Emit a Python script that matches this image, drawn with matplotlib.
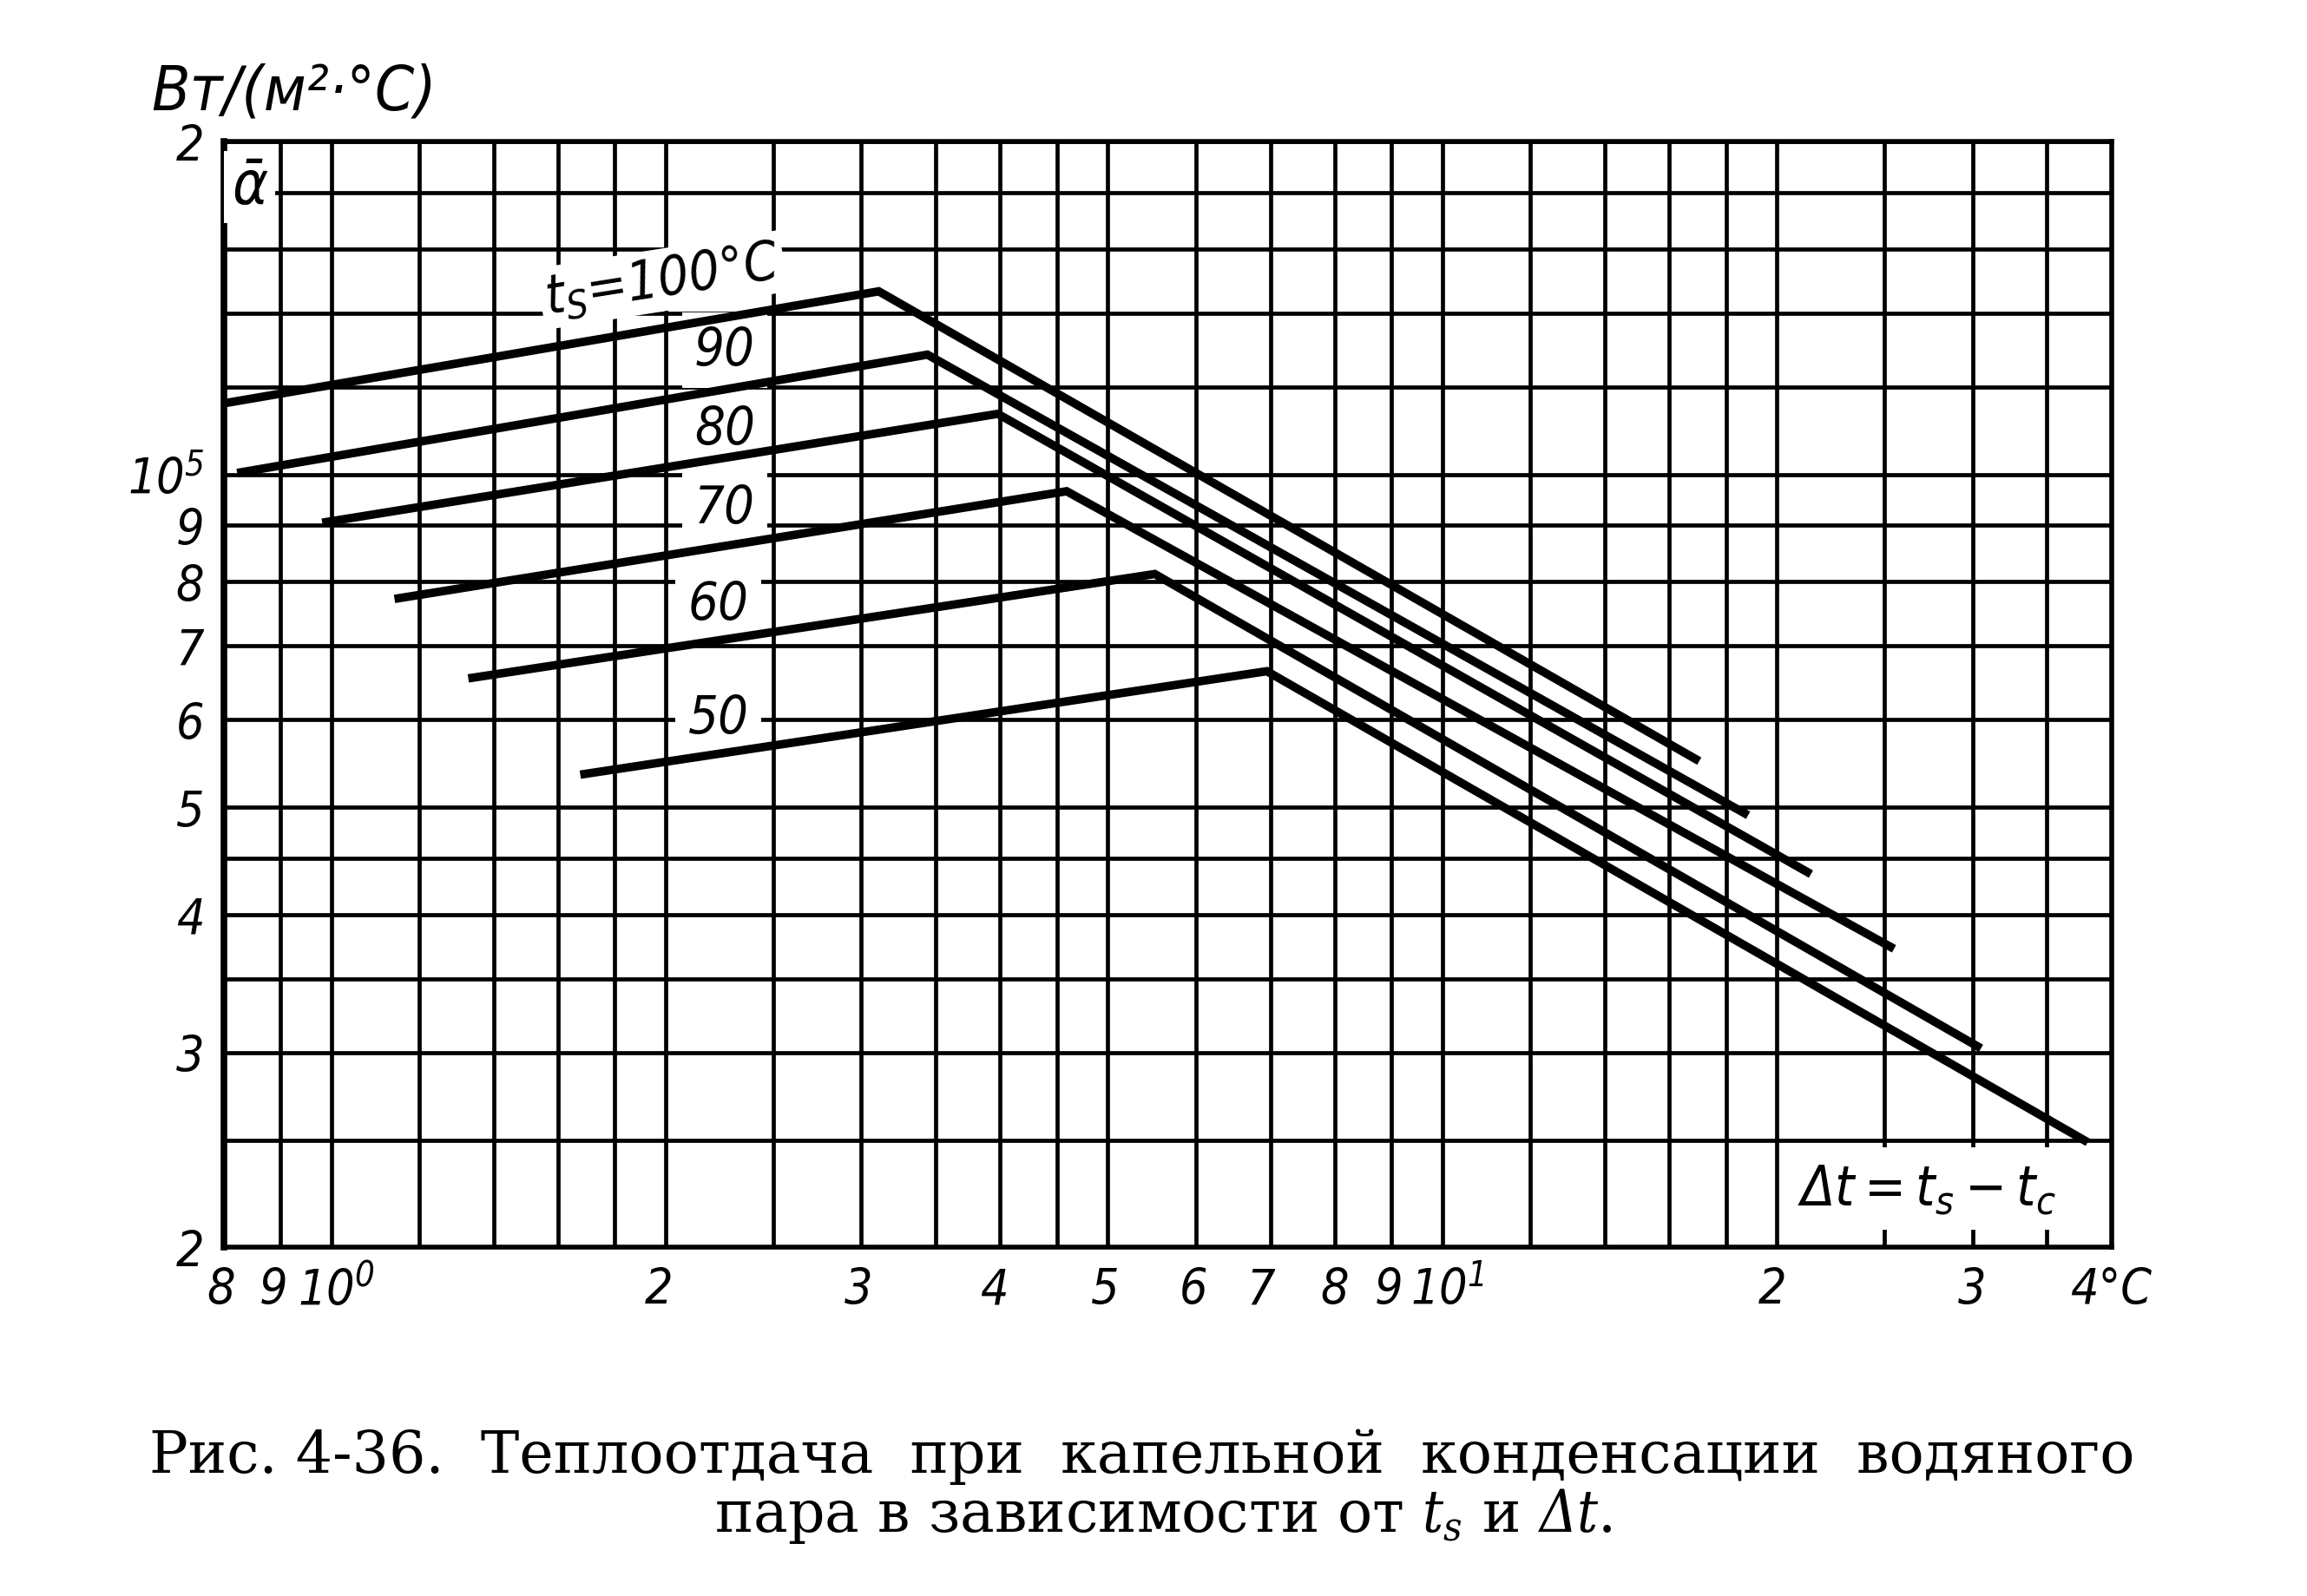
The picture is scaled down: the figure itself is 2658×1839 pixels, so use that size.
import matplotlib
matplotlib.use("Agg")
import matplotlib.pyplot as plt
from matplotlib.ticker import NullLocator
from matplotlib.transforms import ScaledTranslation

# condensed oblique face, close to the drafting lettering of the original
plt.rcParams['font.family'] = ['DejaVu Sans']
plt.rcParams['font.style'] = 'oblique'
plt.rcParams['font.stretch'] = 'condensed'
plt.rcParams['mathtext.fontset'] = 'custom'
plt.rcParams['mathtext.rm'] = 'DejaVu Sans:style=oblique:stretch=condensed'
plt.rcParams['mathtext.it'] = 'DejaVu Sans:style=oblique:stretch=condensed'

# saturation temperature t_s, deg C
ts_values = [100, 90, 80, 70, 60, 50]
# every curve: start point, break point, end point (dt in deg C, alpha in W/(m2 C))
dt_start = [0.80, 0.83, 0.99, 1.15, 1.34, 1.69]
alpha_start = [1.16e5, 1.005e5, 9.06e4, 7.73e4, 6.55e4, 5.36e4]
dt_peak = [3.11, 3.44, 3.98, 4.59, 5.51, 6.95]
alpha_peak = [1.465e5, 1.284e5, 1.135e5, 9.66e4, 8.13e4, 6.64e4]
dt_end = [16.9, 18.7, 21.3, 25.3, 30.3, 37.8]
alpha_end = [5.53e4, 4.94e4, 4.37e4, 3.74e4, 3.04e4, 2.50e4]

# log paper grid
x_grid = [0.8, 0.9, 1, 1.2, 1.4, 1.6, 1.8, 2, 2.5, 3, 3.5, 4, 4.5, 5, 6, 7, 8, 9,
          10, 12, 14, 16, 18, 20, 25, 30, 35, 40]
y_grid = [2e4, 2.5e4, 3e4, 3.5e4, 4e4, 4.5e4, 5e4, 6e4, 7e4, 8e4, 9e4,
          1e5, 1.2e5, 1.4e5, 1.6e5, 1.8e5, 2e5]
x_tick_vals = [0.8, 0.9, 1, 2, 3, 4, 5, 6, 7, 8, 9, 10, 20, 30, 40]
x_tick_text = ['8', '9', '$10^0$', '2', '3', '4', '5', '6', '7', '8', '9', '$10^1$', '2', '3', '4°C']
y_tick_vals = [2e4, 3e4, 4e4, 5e4, 6e4, 7e4, 8e4, 9e4, 1e5, 2e5]
y_tick_text = ['2', '3', '4', '5', '6', '7', '8', '9', '$10^5$', '2']

# where the curve labels sit
label_x = [1.985, 2.26, 2.26, 2.26, 2.23, 2.23]
label_y = [1.50e5, 1.296e5, 1.10e5, 9.32e4, 7.63e4, 6.02e4]

# hand lettering is not quite centred on the lines (points)
x_label_shift = [-2, -6, 4, -6, -2, -5, -2, -2, -8, 0, -2, 4, -4, 0, 0]

fig = plt.figure(figsize=(26.58, 18.40), dpi=100)
ax = fig.add_axes([0.0969, 0.2184, 0.8183, 0.6922])
ax.set_xscale('log')
ax.set_yscale('log')
ax.set_xlim(0.8, 40)
ax.set_ylim(2e4, 2e5)

xlab = dict(zip(x_tick_vals, x_tick_text))
ylab = dict(zip(y_tick_vals, y_tick_text))
ax.set_xticks(x_grid)
ax.set_xticklabels([xlab.get(v, '') for v in x_grid])
ax.set_yticks(y_grid)
ax.set_yticklabels([ylab.get(v, '') for v in y_grid])
ax.xaxis.set_minor_locator(NullLocator())
ax.yaxis.set_minor_locator(NullLocator())
ax.tick_params(length=0, labelsize=41)
ax.tick_params(axis='x', pad=16)
ax.tick_params(axis='y', pad=16)

shift = dict(zip(x_tick_vals, x_label_shift))
for v, lab in zip(x_grid, ax.get_xticklabels()):
    dx = shift.get(v, 0)
    lab.set_transform(lab.get_transform() + ScaledTranslation(dx / 72, 0, fig.dpi_scale_trans))

ax.set_axisbelow(True)
ax.grid(True, color='black', lw=3.4)
for s in ax.spines.values():
    s.set_linewidth(4)
ax.spines['left'].set_linewidth(5.5)

for i, ts in enumerate(ts_values):
    ax.plot([dt_start[i], dt_peak[i], dt_end[i]],
            [alpha_start[i], alpha_peak[i], alpha_end[i]],
            color='black', lw=7, solid_joinstyle='miter', zorder=4)
    if i == 0:
        txt = '$t_S$=%d°C' % ts
        ax.text(label_x[i], label_y[i], txt, fontsize=45, rotation=9,
                ha='center', va='center', zorder=3,
                bbox=dict(facecolor='white', edgecolor='none', pad=4))
    else:
        ax.text(label_x[i], label_y[i], str(ts), fontsize=44,
                ha='center', va='center', zorder=3,
                bbox=dict(facecolor='white', edgecolor='none', pad=10))

ax.text(0.845, 1.82e5, r'$\bar{\alpha}$', fontsize=50, ha='center', va='center',
        zorder=3, bbox=dict(facecolor='white', edgecolor='none', pad=6))
ax.text(27.3, 2.26e4, r'$\Delta t = t_s - t_c$', fontsize=46, ha='center', va='center',
        zorder=3, bbox=dict(facecolor='white', edgecolor='none', pad=12))

fig.text(0.0657, 0.942, 'Вт/(м²·°С)', fontsize=52, ha='left', va='center')

fig.text(0.495, 0.0876, 'Рис. 4-36.  Теплоотдача  при  капельной  конденсации  водяного',
         family='DejaVu Serif', style='normal', stretch='normal', fontsize=48,
         ha='center', va='center')
fig.text(0.504, 0.0507, r'пара в зависимости от $t_s$ и $\Delta t$.',
         family='DejaVu Serif', style='normal', stretch='normal', fontsize=48,
         ha='center', va='center', math_fontfamily='dejavuserif')

fig.savefig('out.png', dpi=100)
